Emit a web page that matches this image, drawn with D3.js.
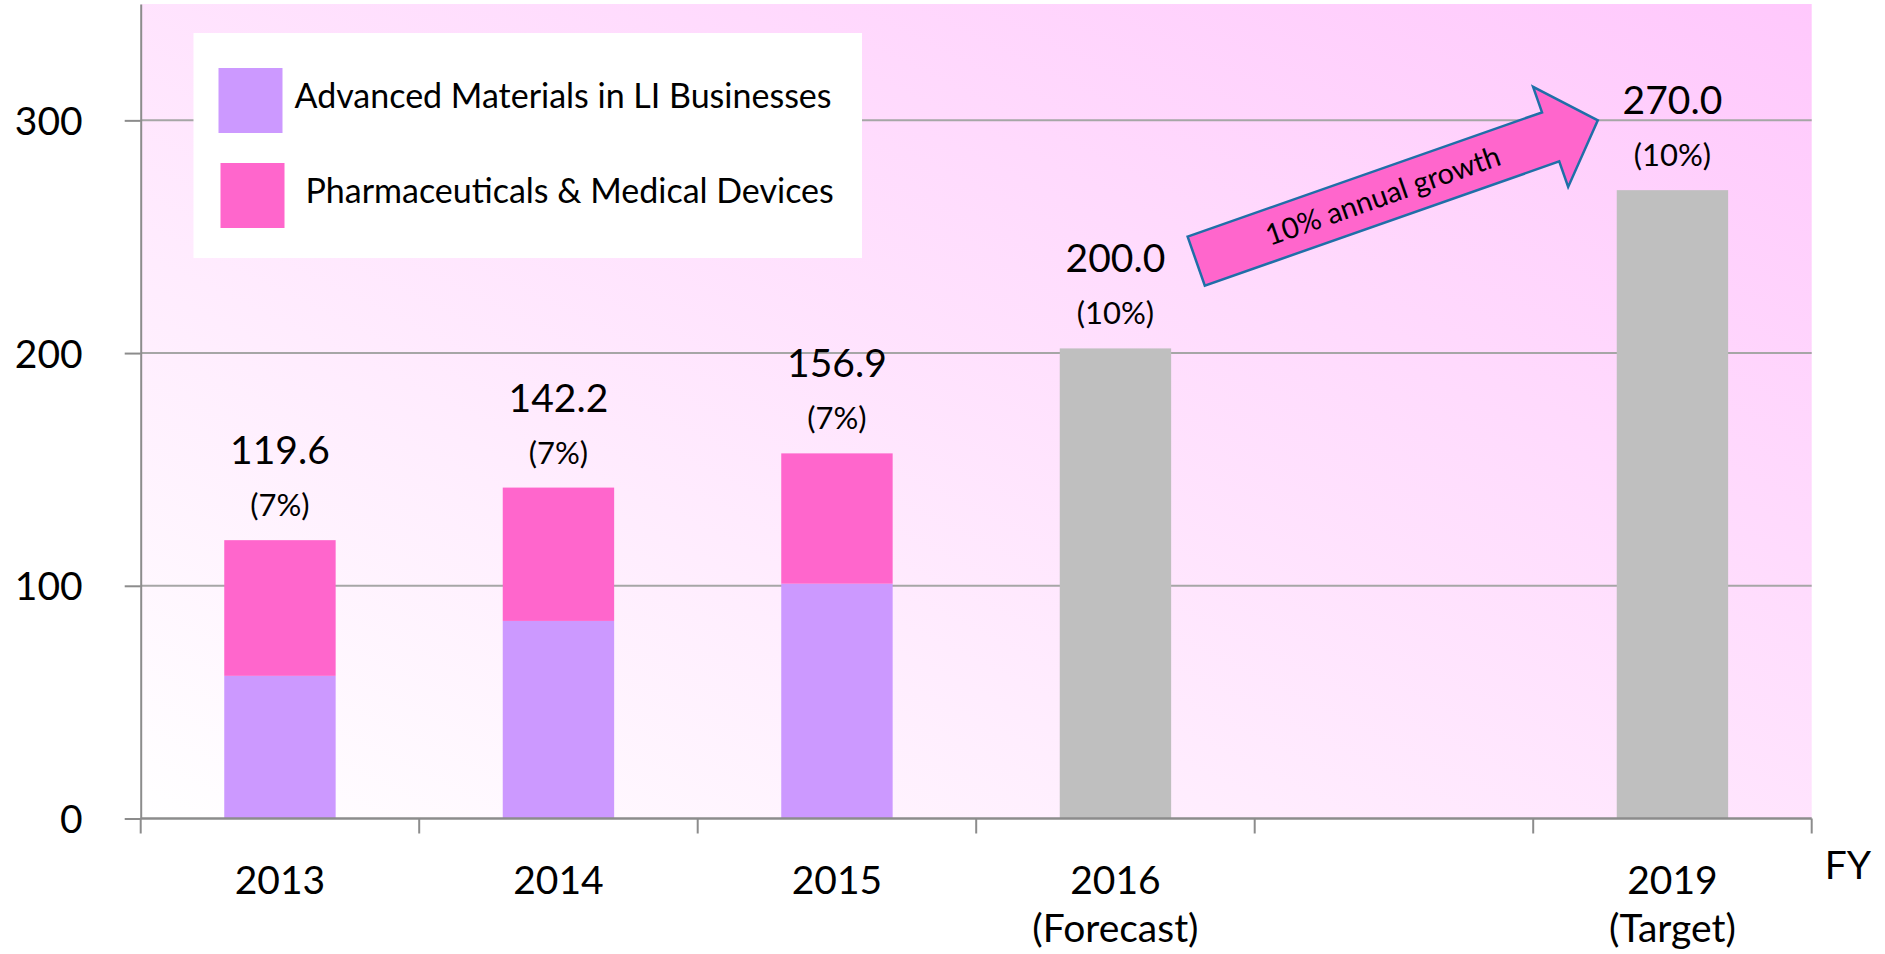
<!DOCTYPE html>
<html>
<head>
<meta charset="utf-8">
<script src="https://cdn.jsdelivr.net/npm/d3@7"></script>
<style>
   body { margin: 0; background: #fff; }
   text { font-family: Lato, 'Open Sans', sans-serif; fill: #000; }
</style>
</head>
<body>
<div id="chart"></div>
<script>
// chart values (the empty slot stands for FY2017-18)
const categories = ['2013', '2014', '2015', '2016', 'gap', '2019'];
const tickLabels = [['2013'], ['2014'], ['2015'], ['2016', '(Forecast)'], [], ['2019', '(Target)']];
const advancedMaterials = [61.3, 84.9, 100.9, 0, 0, 0];
const pharmaDevices = [58.3, 57.3, 56.0, 0, 0, 0];
const plannedTotals = [0, 0, 0, 202, 0, 270];
const totalLabels = ['119.6', '142.2', '156.9', '200.0', '', '270.0'];
const shareLabels = ['(7%)', '(7%)', '(7%)', '(10%)', '', '(10%)'];
const yTicks = [0, 100, 200, 300];
const seriesNames = ['Advanced Materials in LI Businesses', 'Pharmaceuticals & Medical Devices'];
const growthText = '10% annual growth';

const margin = { left: 140.7, right: 73.3, top: 4, bottom: 135.5 };
const W = 1885, H = 954;
const width = W - margin.left - margin.right;
const height = H - margin.top - margin.bottom;
const colors = { adv: '#CC99FF', pharma: '#FF66CC', planned: '#BFBFBF' };
const axisColor = '#8c8c8c';

const svg = d3.select('#chart').append('svg')
   .attr('width', W)
   .attr('height', H);

const defs = svg.append('defs');
const grad = defs.append('linearGradient')
   .attr('id', 'bg')
   .attr('x1', 0).attr('y1', 1)
   .attr('x2', 1).attr('y2', 0);
grad.append('stop').attr('offset', '0%').attr('stop-color', '#ffffff');
grad.append('stop').attr('offset', '100%').attr('stop-color', '#ffc8fc');

const g = svg.append('g')
   .attr('transform', `translate(${margin.left}, ${margin.top})`);

g.append('rect')
   .attr('width', width)
   .attr('height', height)
   .attr('fill', 'url(#bg)');

const x = d3.scaleBand()
   .domain(categories)
   .range([0, width])
   .paddingInner(0.6)
   .paddingOuter(0.3);

const y = d3.scaleLinear()
   .domain([0, 350])
   .range([height, 0]);

// gridlines
g.selectAll('.grid')
   .data(yTicks.filter(d => d > 0))
   .enter().append('line')
      .attr('class', 'grid')
      .attr('x1', 0)
      .attr('x2', width)
      .attr('y1', d => y(d))
      .attr('y2', d => y(d))
      .attr('stroke', '#a6a6a6')
      .attr('stroke-width', 2);

// stacked actual bars
const rows = categories.map((c, i) => ({ cat: c, adv: advancedMaterials[i], pharma: pharmaDevices[i] }));
const stacked = d3.stack().keys(['adv', 'pharma'])(rows);

g.selectAll('.series')
   .data(stacked)
   .enter().append('g')
      .attr('class', 'series')
      .attr('fill', d => colors[d.key])
   .selectAll('rect')
   .data(d => d.filter(p => p[1] > p[0]))
   .enter().append('rect')
      .attr('x', d => x(d.data.cat))
      .attr('width', x.bandwidth())
      .attr('y', d => y(d[1]))
      .attr('height', d => y(d[0]) - y(d[1]));

// forecast / target bars
g.selectAll('.planned')
   .data(categories.map((c, i) => ({ cat: c, v: plannedTotals[i] })).filter(d => d.v > 0))
   .enter().append('rect')
      .attr('class', 'planned')
      .attr('fill', colors.planned)
      .attr('x', d => x(d.cat))
      .attr('width', x.bandwidth())
      .attr('y', d => y(d.v))
      .attr('height', d => height - y(d.v));

// value + share labels
const tops = categories.map((c, i) => Math.max(advancedMaterials[i] + pharmaDevices[i], plannedTotals[i]));
const labels = g.selectAll('.lbl')
   .data(categories.map((c, i) => ({ cat: c, top: tops[i], total: totalLabels[i], share: shareLabels[i] })).filter(d => d.total))
   .enter().append('g')
      .attr('class', 'lbl')
      .attr('transform', d => `translate(${x(d.cat) + x.bandwidth() / 2}, ${y(d.top)})`);
labels.append('text')
   .attr('text-anchor', 'middle')
   .attr('y', -76)
   .attr('font-size', 39)
   .text(d => d.total);
labels.append('text')
   .attr('text-anchor', 'middle')
   .attr('y', -24)
   .attr('font-size', 31)
   .text(d => d.share);

// y axis
const yAxis = g.append('g')
   .call(d3.axisLeft(y).tickValues(yTicks).tickSize(16).tickSizeOuter(0).tickPadding(42));
yAxis.select('.domain').attr('stroke', axisColor).attr('stroke-width', 2);
yAxis.selectAll('.tick line').attr('stroke', axisColor).attr('stroke-width', 2);
yAxis.selectAll('.tick text')
   .attr('font-size', 39)
   .attr('font-family', 'Lato, sans-serif')
   .attr('fill', '#000')
   .attr('dy', '0.36em');

// x axis: ticks sit on the band boundaries
const step = x.step();
const xAxis = g.append('g').attr('transform', `translate(0, ${height})`);
xAxis.append('line')
   .attr('x1', 0).attr('x2', width)
   .attr('stroke', axisColor).attr('stroke-width', 2.5);
xAxis.selectAll('.xtick')
   .data(d3.range(categories.length + 1))
   .enter().append('line')
      .attr('class', 'xtick')
      .attr('x1', i => i * step)
      .attr('x2', i => i * step)
      .attr('y1', 0)
      .attr('y2', 15)
      .attr('stroke', axisColor)
      .attr('stroke-width', 2);
xAxis.selectAll('.xlabel')
   .data(categories.map((c, i) => ({ cat: c, lines: tickLabels[i] })))
   .enter().append('text')
      .attr('class', 'xlabel')
      .attr('text-anchor', 'middle')
      .attr('font-size', 39)
      .attr('transform', d => `translate(${x(d.cat) + x.bandwidth() / 2}, 0)`)
   .selectAll('tspan')
   .data(d => d.lines)
   .enter().append('tspan')
      .attr('x', 0)
      .attr('y', (d, i) => 75 + i * 48)
      .text(d => d);
xAxis.append('text')
   .attr('x', width + 13)
   .attr('y', 60.5)
   .attr('font-size', 39)
   .text('FY');

// legend
const legend = svg.append('g').attr('transform', 'translate(193.5, 33)');
legend.append('rect')
   .attr('width', 668.5)
   .attr('height', 225)
   .attr('fill', '#fff');
const legendItems = legend.selectAll('.item')
   .data(seriesNames.map((n, i) => ({ name: n, key: i === 0 ? 'adv' : 'pharma' })))
   .enter().append('g')
      .attr('class', 'item')
      .attr('transform', (d, i) => `translate(${25 + i * 2}, ${35 + i * 95})`);
legendItems.append('rect')
   .attr('width', 64)
   .attr('height', 65)
   .attr('fill', d => colors[d.key]);
legendItems.append('text')
   .attr('x', (d, i) => 76 + i * 9)
   .attr('y', 40)
   .attr('font-size', 34)
   .text(d => d.name);

// growth arrow from the 2016 forecast to the 2019 target
const from = [x('2016') + x.bandwidth() / 2 + 0.29 * step, y(239.5)];
const to = [x('2019') + x.bandwidth() / 2 - 0.268 * step, y(300)];
const len = Math.hypot(to[0] - from[0], to[1] - from[1]);
const angle = Math.atan2(to[1] - from[1], to[0] - from[0]) * 180 / Math.PI;
const shaft = 26, head = 53, headLen = 50;
const arrow = g.append('g')
   .attr('transform', `translate(${from[0]}, ${from[1]}) rotate(${angle})`);
arrow.append('path')
   .attr('d', d3.line()([
      [0, -shaft], [len - headLen, -shaft], [len - headLen, -head], [len, 0],
      [len - headLen, head], [len - headLen, shaft], [0, shaft]
   ]) + 'Z')
   .attr('fill', '#FF66CC')
   .attr('stroke', '#1f6fa8')
   .attr('stroke-width', 2.5);
arrow.append('text')
   .attr('x', (len - headLen) / 2 + 10)
   .attr('y', 10)
   .attr('text-anchor', 'middle')
   .attr('font-size', 29)
   .text(growthText);
</script>
</body>
</html>
